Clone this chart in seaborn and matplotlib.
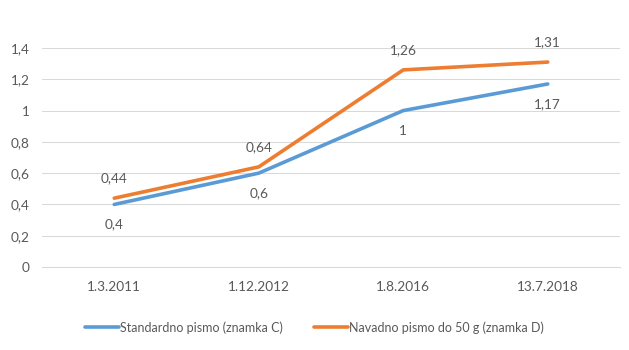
import matplotlib
matplotlib.use("Agg")
import matplotlib.pyplot as plt
import seaborn as sns
import pandas as pd

dates = ["1.3.2011", "1.12.2012", "1.8.2016", "13.7.2018"]
standard = [0.4, 0.6, 1.0, 1.17]
navadno = [0.44, 0.64, 1.26, 1.31]
series_names = ["Standardno pismo (znamka C)", "Navadno pismo do 50 g (znamka D)"]
y_ticks = [0, 0.2, 0.4, 0.6, 0.8, 1.0, 1.2, 1.4]

def fmt(v):
    s = f"{v:.2f}".rstrip("0").rstrip(".")
    return s.replace(".", ",")

sns.set_theme(style="white")
plt.rcParams["font.family"] = ["Lato", "DejaVu Sans"]
text_color = "#595959"
grid_color = "#d9d9d9"
colors = ["#5B9BD5", "#ED7D31"]
fs = 9.8

df = pd.DataFrame({
    "pos": list(range(len(dates))) * 2,
    "value": standard + navadno,
    "series": [series_names[0]] * len(dates) + [series_names[1]] * len(dates),
})

fig = plt.figure(figsize=(6.29, 3.5), dpi=100)
ax = fig.add_axes([0.0668, 0.2371, 0.9189, 0.6258])

sns.lineplot(data=df, x="pos", y="value", hue="series", palette=colors,
             linewidth=2.6, ax=ax, legend=False, sort=False)
for line in ax.get_lines():
    line.set_solid_capstyle("round")
    line.set_solid_joinstyle("round")

ax.set_xlim(-0.5, len(dates) - 0.5)
ax.set_ylim(0, 1.4)
ax.set_yticks(y_ticks)
ax.set_yticklabels([fmt(t) for t in y_ticks])
ax.set_xticks(range(len(dates)))
ax.set_xticklabels(dates)
ax.tick_params(axis="both", length=0, labelsize=fs, colors=text_color)
ax.tick_params(axis="y", pad=9)
ax.tick_params(axis="x", pad=10)
ax.set_xlabel("")
ax.set_ylabel("")
ax.grid(axis="y", color=grid_color, linewidth=0.75)
ax.set_axisbelow(True)
for side in ["left", "right", "top"]:
    ax.spines[side].set_visible(False)
ax.spines["bottom"].set_color(grid_color)
ax.spines["bottom"].set_linewidth(0.75)

# value labels: blue below, orange above
for i, v in enumerate(standard):
    ax.annotate(fmt(v), (i, v), xytext=(0, -14.5), textcoords="offset points",
                ha="center", va="center", fontsize=fs, color=text_color)
for i, v in enumerate(navadno):
    ax.annotate(fmt(v), (i, v), xytext=(0, 14.5), textcoords="offset points",
                ha="center", va="center", fontsize=fs, color=text_color)

handles = [plt.Line2D([], [], color=c, linewidth=2.6, solid_capstyle="round") for c in colors]
fig.legend(handles, series_names, loc="center", bbox_to_anchor=(0.5, 0.065),
           ncol=2, frameon=False, fontsize=9, labelcolor=text_color,
           handlelength=2.7, handletextpad=0.1, columnspacing=2.5)

fig.savefig("out.png", dpi=100, facecolor="white")
